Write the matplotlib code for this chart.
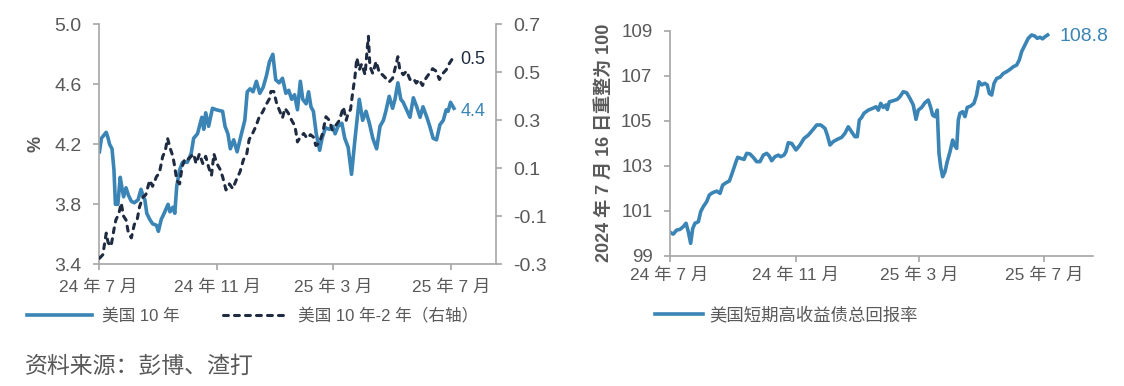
import matplotlib
matplotlib.use('Agg')
import matplotlib.pyplot as plt
import pandas as pd

plt.rcParams['font.family'] = ['Liberation Sans', 'Noto Sans CJK SC', 'DejaVu Sans']

# ---------- data (days after 2024-07-01) ----------
start = pd.Timestamp('2024-07-01')
xlim_days = 412

ust10_days = [1, 3, 8, 10, 11.5, 14, 16, 17.5, 20, 22.5, 24, 26, 28.5, 31, 34, 37, 41, 44, 46.5, 48,
              50, 53, 56, 60, 62, 65, 68, 72, 74, 77, 79, 81, 84, 87, 92, 96, 98.5, 102.5, 107, 109,
              111, 114, 118, 122, 128.5, 131, 134, 136.5, 140, 143.5, 148, 151.5, 154, 157, 160, 163.5,
              167, 170.5, 174, 177, 180.5, 183.5, 187, 190.5, 194, 197, 200, 203, 206, 209, 211.5, 215,
              217.5, 220, 222.5, 225.5, 229, 231.5, 235, 239, 242.5, 245, 248, 252, 255, 258.5, 262,
              265.5, 270, 273.5, 277, 280.5, 284, 288, 291.5, 295, 297.5, 301, 304.5, 307, 310, 313,
              315.5, 319, 322.5, 326, 329.5, 333, 336, 340, 343, 346.5, 350, 353.5, 357, 360, 362,
              364.5, 368]
ust10 = [4.15, 4.24, 4.28, 4.24, 4.20, 4.17, 4.03, 3.80, 3.80, 3.98, 3.92, 3.85, 3.91, 3.86, 3.82, 3.81,
         3.83, 3.90, 3.85, 3.83, 3.74, 3.70, 3.67, 3.66, 3.62, 3.70, 3.74, 3.80, 3.75, 3.78, 3.74, 3.92,
         4.03, 4.08, 4.08, 4.14, 4.24, 4.27, 4.38, 4.30, 4.41, 4.32, 4.44, 4.43, 4.42, 4.32, 4.27, 4.17,
         4.23, 4.15, 4.27, 4.36, 4.55, 4.57, 4.55, 4.62, 4.54, 4.58, 4.66, 4.75, 4.80, 4.63, 4.61, 4.64,
         4.54, 4.56, 4.50, 4.53, 4.43, 4.62, 4.50, 4.47, 4.55, 4.45, 4.42, 4.27, 4.16, 4.24, 4.31, 4.30,
         4.32, 4.27, 4.32, 4.34, 4.24, 4.18, 4.00, 4.23, 4.50, 4.36, 4.42, 4.34, 4.24, 4.17, 4.32, 4.36,
         4.42, 4.52, 4.44, 4.50, 4.61, 4.50, 4.48, 4.43, 4.38, 4.51, 4.45, 4.38, 4.45, 4.38, 4.32, 4.24,
         4.23, 4.33, 4.36, 4.43, 4.42, 4.48, 4.44]

spread_days = [1, 4.5, 8, 10, 13, 16, 18, 21, 23.5, 26, 28.5, 31, 34, 37, 40, 42.5, 46, 49, 53, 56, 60,
               63, 66.5, 69, 71.5, 74.5, 77, 79, 81, 84, 86.5, 89.5, 92, 96, 98.5, 101, 104.5, 108, 111,
               114, 117, 119.5, 122.5, 126, 128.5, 132, 135.5, 139, 142.5, 146.5, 150, 153.5, 156,
               159.5, 163, 166.5, 170, 173.5, 177, 178.5, 181.5, 184.5, 188, 190.5, 193, 196.5, 200,
               203.5, 206, 209, 212.5, 216, 219.5, 222.5, 225, 228.5, 232, 235.5, 239, 242, 245, 249.5,
               253.5, 256.5, 258.5, 261, 263, 265.5, 267.5, 270, 272.5, 276, 278.5, 279.5, 281, 284,
               287.5, 291, 294, 297.5, 301, 304.5, 307, 310, 312, 315.5, 319, 322.5, 326, 329, 332,
               335.5, 339, 342.5, 346, 349.5, 353, 356.5, 360, 363, 367]
spread = [-0.275, -0.26, -0.17, -0.21, -0.225, -0.155, -0.115, -0.09, -0.045, -0.10, -0.115, -0.17,
          -0.19, -0.135, -0.115, -0.06, -0.02, -0.01, 0.05, 0.025, 0.065, 0.08, 0.15, 0.17, 0.225, 0.18,
          0.15, 0.105, 0.05, 0.035, 0.105, 0.14, 0.135, 0.15, 0.16, 0.12, 0.16, 0.12, 0.15, 0.105, 0.07,
          0.16, 0.12, 0.095, 0.065, 0.01, 0.035, 0.015, 0.05, 0.085, 0.135, 0.16, 0.22, 0.245, 0.275,
          0.315, 0.335, 0.365, 0.39, 0.42, 0.42, 0.37, 0.335, 0.31, 0.35, 0.33, 0.30, 0.275, 0.21, 0.23,
          0.245, 0.225, 0.24, 0.23, 0.195, 0.205, 0.245, 0.315, 0.30, 0.26, 0.275, 0.30, 0.355, 0.30,
          0.33, 0.345, 0.41, 0.48, 0.56, 0.51, 0.535, 0.49, 0.61, 0.65, 0.525, 0.495, 0.545, 0.495,
          0.49, 0.475, 0.46, 0.475, 0.515, 0.565, 0.51, 0.49, 0.505, 0.47, 0.475, 0.455, 0.47, 0.445,
          0.475, 0.495, 0.515, 0.505, 0.47, 0.495, 0.51, 0.535, 0.56]

hy_days = [0.5, 3.7, 7, 10.2, 13.4, 16.1, 18.3, 20.6, 22.6, 24.8, 28.1, 30.4, 32.9, 36.2, 38.8, 42, 46,
           49.2, 51.8, 55, 58.3, 61.5, 64.8, 66.4, 69.3, 72.6, 75.2, 78.4, 81.6, 84.9, 88.1, 91.4, 94.6,
           97.2, 99.5, 102.7, 106, 108.3, 111.5, 113.4, 115.7, 119, 123.2, 127.1, 131, 135.2, 139.5,
           143.4, 147.3, 151.4, 153.7, 156.3, 159.5, 163.4, 167.7, 170.9, 174.1, 177.4, 180.6, 182.9,
           184.9, 187.2, 189.4, 193.6, 197.9, 201.1, 203.4, 205.7, 208.2, 210.9, 212.1, 214.1, 218,
           221.9, 224.5, 227.7, 231, 234.2, 237.4, 240.1, 242.3, 245.6, 248.8, 252, 254.4, 256.3, 258.6,
           260.8, 262.5, 264.1, 266, 268.3, 270.5, 273.2, 275.8, 277.4, 279.7, 281.3, 282.9, 285.5,
           287.8, 290, 293.3, 296.5, 299.1, 301.4, 304, 307.2, 309.5, 311.5, 313.8, 316.1, 318.7, 321.9,
           325.1, 328.4, 331.6, 334.9, 338.1, 340.7, 343, 346.2, 349.4, 352.7, 355.9, 358.2, 360.8,
           363.4, 365.7, 368.3]
hy_index = [100.04, 99.96, 100.14, 100.17, 100.29, 100.44, 100.07, 99.55, 100.21, 100.44, 100.51,
            100.96, 101.18, 101.40, 101.70, 101.80, 101.87, 101.77, 102.14, 102.24, 102.32, 102.73,
            103.18, 103.37, 103.33, 103.28, 103.55, 103.52, 103.37, 103.18, 103.18, 103.47, 103.55,
            103.43, 103.22, 103.40, 103.47, 103.40, 103.47, 103.62, 104.02, 103.99, 103.70, 103.92,
            104.21, 104.36, 104.59, 104.81, 104.81, 104.66, 104.36, 103.92, 104.07, 104.17, 104.26,
            104.44, 104.73, 104.51, 104.29, 104.29, 105.03, 105.15, 105.33, 105.47, 105.55, 105.62,
            105.47, 105.77, 105.59, 105.70, 105.50, 105.84, 105.89, 105.95, 106.07, 106.29, 106.24,
            105.99, 105.70, 105.06, 105.47, 105.59, 105.80, 105.92, 105.59, 105.25, 105.18, 105.47,
            103.55, 102.96, 102.51, 102.73, 103.18, 103.62, 104.14, 103.92, 103.77, 105.03, 105.33,
            105.40, 105.18, 105.59, 105.65, 105.77, 106.14, 106.73, 106.59, 106.66, 106.59, 106.21,
            106.14, 106.66, 106.88, 106.93, 107.10, 107.18, 107.28, 107.40, 107.47, 107.70, 108.07,
            108.36, 108.66, 108.81, 108.76, 108.66, 108.71, 108.64, 108.73, 108.81]

tick_days = [0, 123, 243, 365]
tick_labels = ['24 年 7 月', '24 年 11 月', '25 年 3 月', '25 年 7 月']

# ---------- style ----------
W, H = 1124, 386
blue = '#3A84B6'
navy = '#1E2B40'
grey_txt = '#595959'
grey_ax = '#A6A6A6'


def to_dates(d):
    return start + pd.to_timedelta(d, unit='D')


def box(x0, y0, x1, y1):
    # pixel box -> figure fraction
    return [x0 / W, 1 - y1 / H, (x1 - x0) / W, (y1 - y0) / H]


def style_ax(ax, ysize, xpad):
    for s in ['top', 'right']:
        ax.spines[s].set_visible(False)
    for s in ['left', 'bottom']:
        ax.spines[s].set_color(grey_ax)
        ax.spines[s].set_linewidth(1.2)
    ax.tick_params(axis='both', colors=grey_ax, length=4.3, width=1.2)
    ax.tick_params(axis='y', labelcolor=grey_txt, labelsize=ysize, pad=8)
    ax.tick_params(axis='x', labelcolor=grey_txt, labelsize=12.5, pad=xpad)
    ax.set_xlim(start, to_dates(xlim_days))
    ax.set_xticks(to_dates(tick_days))
    ax.set_xticklabels(tick_labels)


fig = plt.figure(figsize=(W / 100, H / 100), dpi=100)

# ---------- left chart ----------
ax1 = fig.add_axes(box(98.5, 24.3, 496.4, 264.3))
style_ax(ax1, 14, 6.5)
ax1.set_ylim(3.4, 5.0)
ax1.set_yticks([3.4, 3.8, 4.2, 4.6, 5.0])
ax1.yaxis.set_major_formatter(plt.FormatStrFormatter('%.1f'))
l1, = ax1.plot(to_dates(ust10_days), ust10, color=blue, lw=2.6, solid_joinstyle='round')
ax1.set_ylabel('%', color=grey_txt, fontsize=13, fontweight='bold', labelpad=7)

ax2 = ax1.twinx()
ax2.spines['top'].set_visible(False)
ax2.spines['left'].set_visible(False)
ax2.spines['bottom'].set_visible(False)
ax2.spines['right'].set_color(grey_ax)
ax2.spines['right'].set_linewidth(1.2)
ax2.set_ylim(-0.3, 0.7)
ax2.set_yticks([-0.3, -0.1, 0.1, 0.3, 0.5, 0.7])
ax2.yaxis.set_major_formatter(plt.FormatStrFormatter('%.1f'))
ax2.tick_params(axis='y', colors=grey_ax, labelcolor=grey_txt, labelsize=14, length=4.3, width=1.2, pad=8)
l2, = ax2.plot(to_dates(spread_days), spread, color=navy, lw=2.2, dashes=(1.6, 2.0),
               dash_capstyle='round')

ax1.text(to_dates(ust10_days[-1] + 7), ust10[-1] - 0.02, '4.4', color=blue, fontsize=13, va='center')
ax2.text(to_dates(spread_days[-1] + 8), spread[-1] - 0.005, '0.5', color=navy, fontsize=13, va='center')

fig.legend([l1, l2], ['美国 10 年', '美国 10 年-2 年（右轴）'], loc='center left',
           bbox_to_anchor=(27 / W, 1 - 316 / H), ncol=2, frameon=False, fontsize=12,
           handlelength=3.9, handletextpad=0.6, columnspacing=2.6, borderpad=0, borderaxespad=0,
           labelcolor=grey_txt)

fig.text(25 / W, 1 - 366 / H, '资料来源：彭博、渣打', fontsize=16.5, color=grey_txt, va='center')

# ---------- right chart ----------
ax3 = fig.add_axes(box(669.5, 30.7, 1092.5, 255.7))
style_ax(ax3, 13.5, 4.5)
ax3.set_ylim(99, 109)
ax3.set_yticks([99, 101, 103, 105, 107, 109])
l3, = ax3.plot(to_dates(hy_days), hy_index, color=blue, lw=2.6, solid_joinstyle='round')
ax3.text(to_dates(hy_days[-1] + 12), hy_index[-1] - 0.05, '108.8', color=blue, fontsize=14, va='center')
ax3.set_ylabel('2024 年 7 月 16 日重整为 100', color=grey_txt, fontsize=13, fontweight='bold', labelpad=6)

fig.legend([l3], ['美国短期高收益债总回报率'], loc='center left',
           bbox_to_anchor=(654.6 / W, 1 - 315 / H), frameon=False, fontsize=12.5,
           handlelength=2.8, handletextpad=0.35, borderpad=0, borderaxespad=0,
           labelcolor=grey_txt)

fig.savefig('out.png', dpi=100)
